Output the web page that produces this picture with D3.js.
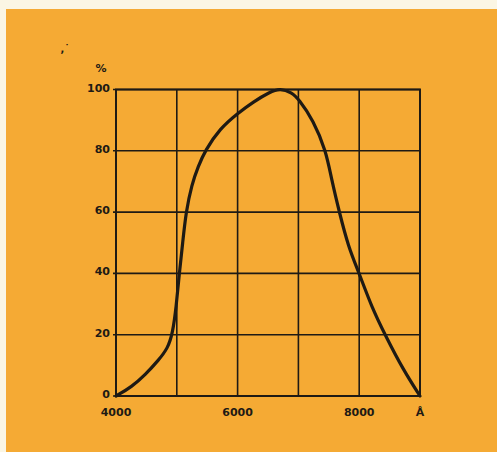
<!DOCTYPE html>
<html>
<head>
<meta charset="utf-8">
<script src="https://cdn.jsdelivr.net/npm/d3@7"></script>
<style>
  body { margin: 0; background: #fbf6e4; }
  svg { display: block; }
  .lbl { font-family: "DejaVu Sans", sans-serif; font-weight: bold; font-size: 11px; fill: #1e1a14; }
</style>
</head>
<body>
<div id="wrapper"></div>
<script>
// Spectral curve (wavelength in A, relative %)
const wavelengths = [4000,4260,4480,4700,4850,4932,4990,5041,5097,5151,5245,5354,5464,5710,6000,6260,6530,6700,6890,7000,7245,7454,7547,7673,7821,8000,8206,8424,8725,9000];
const percents    = [0,   3,   6.9, 11.7,15.5,20.5,29,  40,  50,  60,  69,  75,  80,  87.3,92.2,96,  99.2,100.4,99,  97,  90,  80,  70.5,60,  48.7,40,  29,  20,  8.5, 0];

const xTicks = [4000,5000,6000,7000,8000,9000];
const xTickLabels = ["4000","","6000","","8000","Å"];
const yTicks = [0,20,40,60,80,100];

const W = 497, H = 452;
const svg = d3.select("#wrapper").append("svg").attr("width", W).attr("height", H);

// orange panel
svg.append("rect").attr("x", 6).attr("y", 9).attr("width", W - 6).attr("height", H - 9).attr("fill", "#f5aa34");

const x = d3.scaleLinear().domain([4000, 9000]).range([116, 420]);
const y = d3.scaleLinear().domain([0, 100]).range([396, 89.5]);

const ink = "#1e1a14";

// grid
svg.append("g").selectAll("line.v").data(xTicks).enter().append("line")
  .attr("x1", d => x(d)).attr("x2", d => x(d)).attr("y1", y(0)).attr("y2", y(100))
  .attr("stroke", ink).attr("stroke-width", 1.6);
svg.append("g").selectAll("line.h").data(yTicks).enter().append("line")
  .attr("x1", x(4000) - 3).attr("x2", x(9000)).attr("y1", d => y(d)).attr("y2", d => y(d))
  .attr("stroke", ink).attr("stroke-width", 1.6);

// frame a little heavier
svg.append("rect").attr("x", x(4000)).attr("y", y(100))
  .attr("width", x(9000) - x(4000)).attr("height", y(0) - y(100))
  .attr("fill", "none").attr("stroke", ink).attr("stroke-width", 2);

// y labels
svg.append("g").selectAll("text").data(yTicks).enter().append("text")
  .attr("class", "lbl")
  .attr("x", x(4000) - 6).attr("y", d => y(d) + 2)
  .attr("text-anchor", "end")
  .text(d => d);

// x labels
svg.append("g").selectAll("text").data(xTicks).enter().append("text")
  .attr("class", "lbl")
  .attr("x", d => x(d)).attr("y", y(0) + 20)
  .attr("text-anchor", "middle")
  .text((d, i) => xTickLabels[i]);

// unit
svg.append("text").attr("class", "lbl").attr("x", 101).attr("y", 72).attr("text-anchor", "middle").text("%");
svg.append("text").attr("class", "lbl").attr("x", 65).attr("y", 52).attr("text-anchor", "middle").style("font-size", "10px").text(",˙");

// curve (basis spline smooths the hand-read points)
const line = d3.line().x((d, i) => x(wavelengths[i])).y(d => y(d)).curve(d3.curveBasis);
svg.append("path").datum(percents)
  .attr("d", line)
  .attr("fill", "none").attr("stroke", ink).attr("stroke-width", 3.2)
  .attr("stroke-linejoin", "round").attr("stroke-linecap", "round");
</script>
</body>
</html>
